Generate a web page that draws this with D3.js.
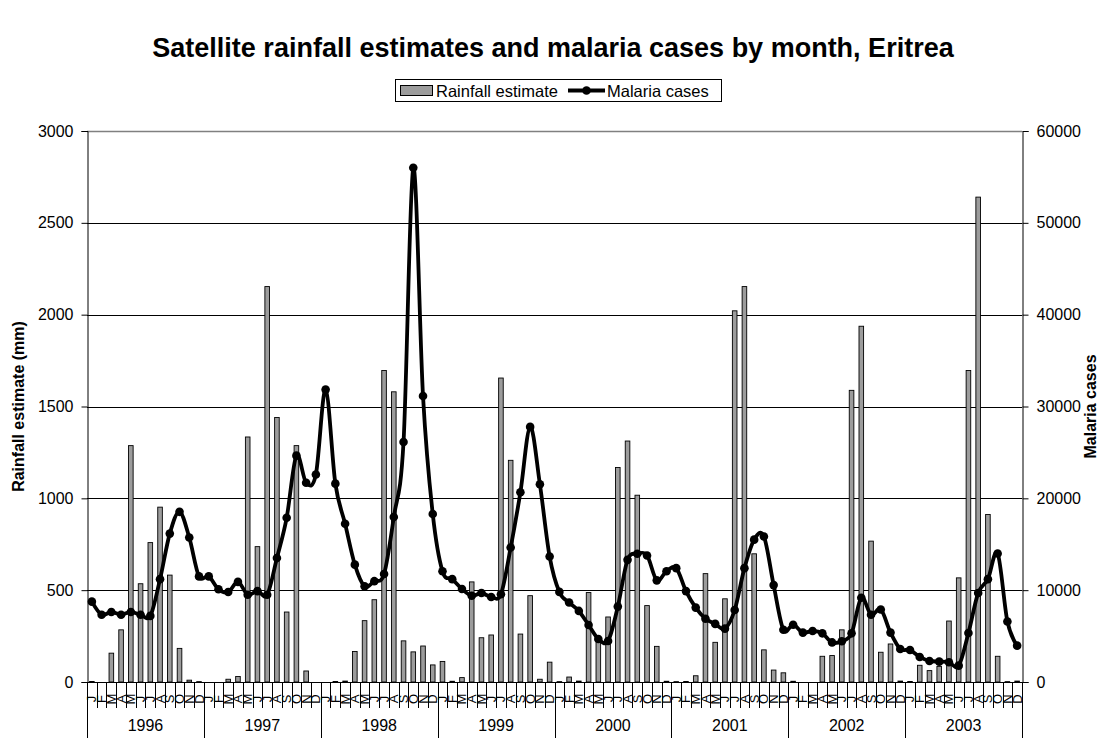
<!DOCTYPE html>
<html>
<head>
<meta charset="utf-8">
<script src="https://cdn.jsdelivr.net/npm/d3@7"></script>
<style>
  html, body { margin: 0; padding: 0; background: #fff; }
  svg { display: block; font-family: "Liberation Sans", Arial, sans-serif; }
</style>
</head>
<body>
<svg id="chart" width="1107" height="738"></svg>
<script>
// ---- Data ----
const years = ["1996", "1997", "1998", "1999", "2000", "2001", "2002", "2003"];
const monthLetters = ["J", "F", "M", "A", "M", "J", "J", "A", "S", "O", "N", "D"];

// Satellite rainfall estimate (mm), Jan 1996 .. Dec 2003
const rainfall = [
  3, 0, 157, 284, 1287, 535, 759, 952, 582, 183, 10, 2,
  0, 0, 15, 30, 1334, 737, 2153, 1440, 381, 1287, 60, 0,
  0, 3, 5, 166, 334, 448, 1696, 1580, 224, 164, 196, 93,
  112, 4, 24, 545, 241, 256, 1655, 1207, 261, 470, 15, 108,
  2, 27, 5, 487, 235, 354, 1168, 1312, 1017, 416, 194, 4,
  2, 3, 34, 590, 216, 453, 2021, 2153, 698, 175, 65, 50,
  4, 0, 0, 140, 144, 284, 1588, 1937, 767, 162, 207, 5,
  3, 91, 62, 85, 332, 567, 1696, 2640, 912, 140, 2, 5
];

// Malaria cases, Jan 1996 .. Dec 2003
const malaria = [
  8750, 7330, 7630, 7330, 7630, 7330, 7200, 11200, 16160, 18530, 15730, 11500,
  11500, 10100, 9800, 10900, 9500, 9900, 9500, 13500, 17880, 24650, 21700, 22600,
  31840, 21600, 17230, 12780, 10420, 10980, 11760, 17960, 26140, 55990, 31140, 18300,
  12060, 11200, 10120, 9390, 9690, 9260, 9560, 14640, 20670, 27780, 21530, 13660,
  9810, 8650, 7740, 6210, 4690, 4470, 8210, 13300, 13960, 13780, 11070, 12060,
  12400, 9900, 8100, 6890, 6330, 5810, 7840, 12400, 15500, 15850, 10550, 5690,
  6240, 5380, 5560, 5300, 4310, 4440, 5300, 9170, 7320, 7900, 5380, 3600,
  3490, 2730, 2290, 2220, 2150, 1780, 5340, 9690, 11200, 14000, 6590, 3960
];

const leftTicks = [0, 500, 1000, 1500, 2000, 2500, 3000];
const rightTicks = [0, 10000, 20000, 30000, 40000, 50000, 60000];

const titleText = "Satellite rainfall estimates and malaria cases by month, Eritrea";
const leftTitle = "Rainfall estimate (mm)";
const rightTitle = "Malaria cases";
const legendLabels = ["Rainfall estimate", "Malaria cases"];

// ---- Layout ----
const W = 1107, H = 738;
const plot = { left: 87, right: 1022, top: 131, bottom: 682 };
const svg = d3.select("#chart");

const idx = d3.range(rainfall.length);
const x = d3.scaleBand().domain(idx).range([plot.left, plot.right]).padding(0);
const yL = d3.scaleLinear().domain([0, 3000]).range([plot.bottom, plot.top]);
const yR = d3.scaleLinear().domain([0, 60000]).range([plot.bottom, plot.top]);
const bw = x.bandwidth();

// Title
svg.append("text")
  .attr("x", 553).attr("y", 57)
  .attr("text-anchor", "middle")
  .attr("font-size", 27).attr("font-weight", "bold")
  .text(titleText);

// Gridlines
const grid = svg.append("g");
grid.selectAll("line").data(leftTicks.filter(d => d > 0 && d < 3000)).join("line")
  .attr("x1", plot.left).attr("x2", plot.right)
  .attr("y1", d => Math.round(yL(d)) + 0.5).attr("y2", d => Math.round(yL(d)) + 0.5)
  .attr("stroke", "#000").attr("stroke-width", 1);
// top border of plot area
svg.append("line")
  .attr("x1", plot.left).attr("x2", plot.right)
  .attr("y1", plot.top + 0.5).attr("y2", plot.top + 0.5)
  .attr("stroke", "#808080").attr("stroke-width", 1.5);

// Bars
svg.append("g").selectAll("rect").data(idx).join("rect")
  .attr("x", i => x(i) + bw / 2 - 2.3)
  .attr("width", 4.6)
  .attr("y", i => yL(rainfall[i]))
  .attr("height", i => Math.max(0, plot.bottom - yL(rainfall[i])))
  .attr("fill", "#9c9c9c").attr("stroke", "#000").attr("stroke-width", 0.9);

// Left axis
const axL = d3.axisLeft(yL).tickValues(leftTicks).tickSize(6).tickPadding(8).tickFormat(d3.format("d"));
const gL = svg.append("g").attr("transform", `translate(${plot.left + 0.5},0)`).call(axL);
gL.select(".domain").attr("stroke", "#000");
gL.selectAll("text").attr("font-size", 16).attr("font-family", "Liberation Sans, Arial, sans-serif").attr("fill", "#000");

// Right axis
const axR = d3.axisRight(yR).tickValues(rightTicks).tickSize(6).tickPadding(8).tickFormat(d3.format("d"));
const gR = svg.append("g").attr("transform", `translate(${plot.right + 0.5},0)`).call(axR);
gR.select(".domain").attr("stroke", "#000");
gR.selectAll("text").attr("font-size", 16).attr("font-family", "Liberation Sans, Arial, sans-serif").attr("fill", "#000");

// Bottom axis baseline
svg.append("line")
  .attr("x1", plot.left).attr("x2", plot.right)
  .attr("y1", plot.bottom + 0.5).attr("y2", plot.bottom + 0.5)
  .attr("stroke", "#000");

// Month ticks and labels
const mt = svg.append("g");
mt.selectAll("line").data(d3.range(rainfall.length + 1)).join("line")
  .attr("x1", i => Math.round(plot.left + i * bw) + 0.5)
  .attr("x2", i => Math.round(plot.left + i * bw) + 0.5)
  .attr("y1", plot.bottom)
  .attr("y2", i => (i % 12 === 0) ? H : plot.bottom + 26)
  .attr("stroke", "#000").attr("stroke-width", 1);
mt.selectAll("text").data(idx).join("text")
  .attr("transform", i => `translate(${x(i) + bw / 2 + 4.5},699) rotate(-90)`)
  .attr("text-anchor", "middle")
  .attr("font-size", 13)
  .text(i => monthLetters[i % 12]);

// Year labels
svg.append("g").selectAll("text").data(years).join("text")
  .attr("x", (d, k) => x(k * 12) + bw * 6)
  .attr("y", 731)
  .attr("text-anchor", "middle")
  .attr("font-size", 16)
  .text(d => d);

// Malaria line
const line = d3.line()
  .x(i => x(i) + bw / 2)
  .y(i => yR(malaria[i]))
  .curve(d3.curveCardinal.tension(0));
svg.append("path").datum(idx)
  .attr("d", line)
  .attr("fill", "none").attr("stroke", "#000").attr("stroke-width", 3.8)
  .attr("stroke-linejoin", "round");
svg.append("g").selectAll("circle").data(idx).join("circle")
  .attr("cx", i => x(i) + bw / 2)
  .attr("cy", i => yR(malaria[i]))
  .attr("r", 4.3).attr("fill", "#000");

// Axis titles
svg.append("text")
  .attr("transform", `translate(24,${(plot.top + plot.bottom) / 2}) rotate(-90)`)
  .attr("text-anchor", "middle").attr("font-size", 16).attr("font-weight", "bold")
  .text(leftTitle);
svg.append("text")
  .attr("transform", `translate(1096,${(plot.top + plot.bottom) / 2}) rotate(-90)`)
  .attr("text-anchor", "middle").attr("font-size", 16).attr("font-weight", "bold")
  .text(rightTitle);

// Legend
const lg = svg.append("g");
lg.append("rect").attr("x", 395.5).attr("y", 79.5).attr("width", 326).attr("height", 22)
  .attr("fill", "#fff").attr("stroke", "#000");
lg.append("rect").attr("x", 400.5).attr("y", 85.5).attr("width", 32).attr("height", 10)
  .attr("fill", "#9c9c9c").attr("stroke", "#000");
lg.append("text").attr("x", 436).attr("y", 96.5).attr("font-size", 16.5).text(legendLabels[0]);
lg.append("line").attr("x1", 568).attr("x2", 605).attr("y1", 90.5).attr("y2", 90.5)
  .attr("stroke", "#000").attr("stroke-width", 3.8);
lg.append("circle").attr("cx", 586.5).attr("cy", 90.5).attr("r", 4.3).attr("fill", "#000");
lg.append("text").attr("x", 607).attr("y", 96.5).attr("font-size", 16.5).text(legendLabels[1]);
</script>
</body>
</html>
